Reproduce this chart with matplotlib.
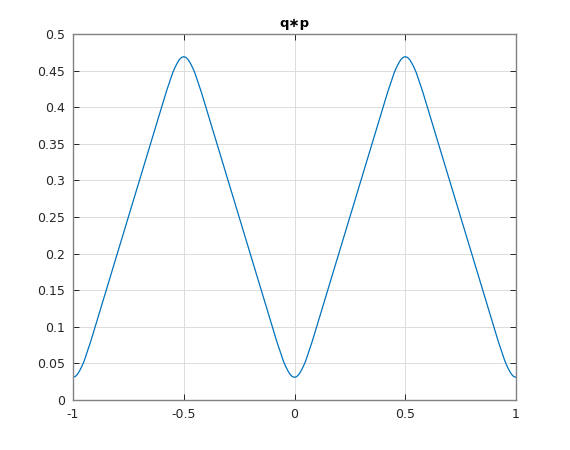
import matplotlib
matplotlib.use("Agg")
import matplotlib.pyplot as plt

# values
x_vals = [-1.00, -0.99, -0.98, -0.97, -0.96, -0.95, -0.94, -0.93, -0.92, -0.91, -0.90,
          -0.85, -0.80, -0.75, -0.70, -0.65, -0.60, -0.59, -0.58, -0.57, -0.56, -0.55,
          -0.54, -0.53, -0.52, -0.51, -0.50,
          -0.49, -0.48, -0.47, -0.46, -0.45, -0.44, -0.43, -0.42, -0.41, -0.40,
          -0.35, -0.30, -0.25, -0.20, -0.15, -0.10, -0.09, -0.08, -0.07, -0.06, -0.05,
          -0.04, -0.03, -0.02, -0.01, 0.00,
          0.01, 0.02, 0.03, 0.04, 0.05, 0.06, 0.07, 0.08, 0.09, 0.10,
          0.15, 0.20, 0.25, 0.30, 0.35, 0.40, 0.41, 0.42, 0.43, 0.44, 0.45,
          0.46, 0.47, 0.48, 0.49, 0.50,
          0.51, 0.52, 0.53, 0.54, 0.55, 0.56, 0.57, 0.58, 0.59, 0.60,
          0.65, 0.70, 0.75, 0.80, 0.85, 0.90, 0.91, 0.92, 0.93, 0.94, 0.95,
          0.96, 0.97, 0.98, 0.99, 1.00]
y_vals = [0.031, 0.032, 0.035, 0.040, 0.046, 0.053, 0.062, 0.071, 0.080, 0.090, 0.100,
          0.150, 0.200, 0.250, 0.300, 0.350, 0.400, 0.410, 0.420, 0.429, 0.438, 0.447,
          0.454, 0.460, 0.465, 0.468, 0.469,
          0.468, 0.465, 0.460, 0.454, 0.447, 0.438, 0.429, 0.420, 0.410, 0.400,
          0.350, 0.300, 0.250, 0.200, 0.150, 0.100, 0.090, 0.080, 0.071, 0.062, 0.053,
          0.046, 0.040, 0.035, 0.032, 0.031,
          0.032, 0.035, 0.040, 0.046, 0.053, 0.062, 0.071, 0.080, 0.090, 0.100,
          0.150, 0.200, 0.250, 0.300, 0.350, 0.400, 0.410, 0.420, 0.429, 0.438, 0.447,
          0.454, 0.460, 0.465, 0.468, 0.469,
          0.468, 0.465, 0.460, 0.454, 0.447, 0.438, 0.429, 0.420, 0.410, 0.400,
          0.350, 0.300, 0.250, 0.200, 0.150, 0.100, 0.090, 0.080, 0.071, 0.062, 0.053,
          0.046, 0.040, 0.035, 0.032, 0.031]

x_ticks = [-1, -0.5, 0, 0.5, 1]
x_labels = ["-1", "-0.5", "0", "0.5", "1"]
y_ticks = [0, 0.05, 0.1, 0.15, 0.2, 0.25, 0.3, 0.35, 0.4, 0.45, 0.5]
y_labels = ["0", "0.05", "0.1", "0.15", "0.2", "0.25", "0.3", "0.35", "0.4", "0.45", "0.5"]
title = "q\u2217p"

fig = plt.figure(figsize=(5.7, 4.5), dpi=100)
ax = fig.add_axes([73/570, 50/450, (516-73)/570, (400-34)/450])
ax.plot(x_vals, y_vals, color="#0072BD", lw=0.9)
ax.set_xlim(-1, 1)
ax.set_ylim(0, 0.5)
ax.set_xticks(x_ticks)
ax.set_xticklabels(x_labels)
ax.set_yticks(y_ticks)
ax.set_yticklabels(y_labels)
ax.grid(True, color="#dcdcdc", lw=0.7)
ax.set_axisbelow(True)
for s in ax.spines.values():
    s.set_color("#828282")
    s.set_linewidth(1.0)
ax.tick_params(direction="in", length=4, width=0.7, color="#262626",
               labelcolor="#262626", labelsize=9, top=True, right=True, pad=6)
ax.set_title(title, fontsize=9.5, fontweight="bold", color="black", pad=5)
fig.savefig("out.png", dpi=100, facecolor="white")
